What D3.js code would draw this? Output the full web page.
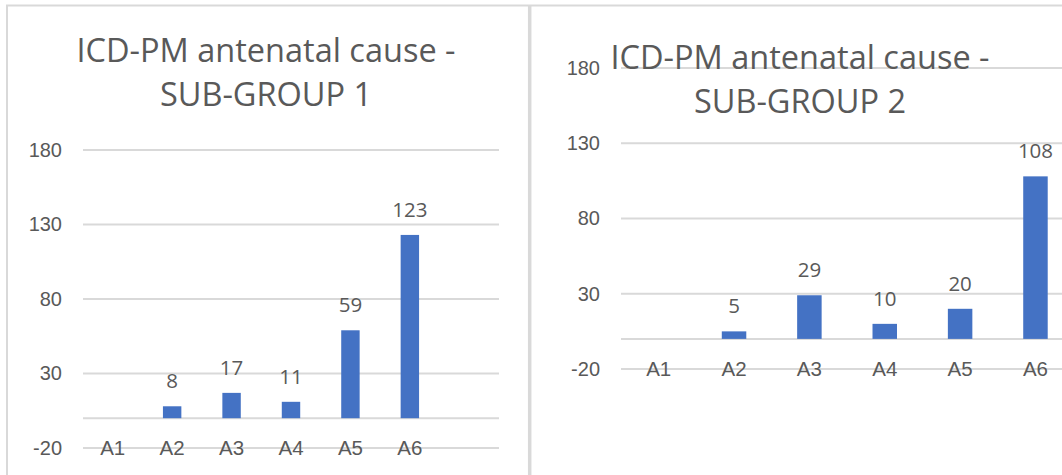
<!DOCTYPE html>
<html>
<head>
<meta charset="utf-8">
<script src="https://cdn.jsdelivr.net/npm/d3@7"></script>
<style>
  body { margin: 0; background: #fff; }
  svg { display: block; font-family: "Open Sans", "Noto Sans", sans-serif; }
  .tick-label, .cat-label, .data-label, .title { fill: #595959; }
</style>
</head>
<body>
<svg id="chart" width="1062" height="475"></svg>
<script>
"use strict"

// chart data
var categories = ["A1", "A2", "A3", "A4", "A5", "A6", ""];
var subGroup1 = [null, 8, 17, 11, 59, 123, null];
var subGroup2 = [null, 5, 29, 10, 20, 108, null];
var yTicks = [-20, 30, 80, 130, 180];
var titles = [
    ["ICD-PM antenatal cause -", "SUB-GROUP 1"],
    ["ICD-PM antenatal cause -", "SUB-GROUP 2"]
];

var svg = d3.select("#chart");
var gridColor = "#d9d9d9";
var barColor = "#4472c4";

// outer frame of the two charts
svg.append("line")
    .attr("x1", 6).attr("x2", 1062)
    .attr("y1", 5.5).attr("y2", 5.5)
    .attr("stroke", gridColor).attr("stroke-width", 2);
svg.append("line")
    .attr("x1", 7).attr("x2", 7)
    .attr("y1", 5).attr("y2", 475)
    .attr("stroke", gridColor).attr("stroke-width", 2);
svg.append("line")
    .attr("x1", 529.7).attr("x2", 529.7)
    .attr("y1", 5).attr("y2", 475)
    .attr("stroke", gridColor).attr("stroke-width", 3.5);

var panels = [
    { values: subGroup1, title: titles[0], left: 83, right: 499, top: 150, bottom: 448,
      titleX: 266, titleY: [61.7, 106], pad: 0.69 },
    { values: subGroup2, title: titles[1], left: 621, right: 1148.5, top: 68, bottom: 369,
      titleX: 800, titleY: [68.5, 112.5], pad: 0.675 }
];

panels.forEach(function(p) {
    var x = d3.scaleBand()
        .domain(categories)
        .range([p.left, p.right])
        .paddingInner(p.pad)
        .paddingOuter(p.pad / 2);

    var y = d3.scaleLinear()
        .domain([-20, 180])
        .range([p.bottom, p.top]);

    var g = svg.append("g");

    // gridlines
    g.selectAll(".grid")
        .data(yTicks)
        .enter().append("line")
        .attr("class", "grid")
        .attr("x1", p.left).attr("x2", p.right)
        .attr("y1", function(d) { return y(d); })
        .attr("y2", function(d) { return y(d); })
        .attr("stroke", gridColor)
        .attr("stroke-width", 2);

    // y axis labels (plain hyphen for negatives, like the source)
    var yAxis = d3.axisLeft(y)
        .tickValues(yTicks)
        .tickFormat(String)
        .tickSize(0)
        .tickPadding(21);
    var ya = g.append("g")
        .attr("transform", "translate(" + p.left + ",0)")
        .call(yAxis);
    ya.select(".domain").remove();
    ya.selectAll("text")
        .attr("class", "tick-label")
        .attr("fill", null)
        .style("font-size", "20px")
        .style("font-family", "inherit");

    // category axis line at zero
    g.append("line")
        .attr("x1", p.left).attr("x2", p.right)
        .attr("y1", y(0)).attr("y2", y(0))
        .attr("stroke", gridColor)
        .attr("stroke-width", 2);

    // bars
    var rows = categories.map(function(c, i) { return { cat: c, v: p.values[i] }; })
        .filter(function(d) { return d.v != null; });

    g.selectAll(".bar")
        .data(rows)
        .enter().append("rect")
        .attr("class", "bar")
        .attr("x", function(d) { return x(d.cat); })
        .attr("width", x.bandwidth())
        .attr("y", function(d) { return y(d.v); })
        .attr("height", function(d) { return y(0) - y(d.v); })
        .attr("fill", barColor);

    g.selectAll(".data-label")
        .data(rows)
        .enter().append("text")
        .attr("class", "data-label")
        .attr("x", function(d) { return x(d.cat) + x.bandwidth() / 2; })
        .attr("y", function(d) { return y(d.v) - 18; })
        .attr("text-anchor", "middle")
        .style("font-size", "20.5px")
        .text(function(d) { return d.v; });

    // category labels, sitting on the bottom gridline
    var xAxis = d3.axisBottom(x)
        .tickSize(0)
        .tickPadding(0);
    var xa = g.append("g")
        .attr("transform", "translate(0," + (p.bottom - 8) + ")")
        .call(xAxis);
    xa.select(".domain").remove();
    xa.selectAll("text")
        .attr("class", "cat-label")
        .attr("fill", null)
        .style("font-size", "20.5px")
        .style("font-family", "inherit");

    // title
    svg.append("text")
        .attr("class", "title")
        .attr("text-anchor", "middle")
        .attr("x", p.titleX)
        .selectAll("tspan")
        .data(p.title)
        .enter().append("tspan")
        .attr("x", p.titleX)
        .attr("y", function(d, i) { return p.titleY[i]; })
        .style("font-size", "32.5px")
        .text(function(d) { return d; });
});
</script>
</body>
</html>
